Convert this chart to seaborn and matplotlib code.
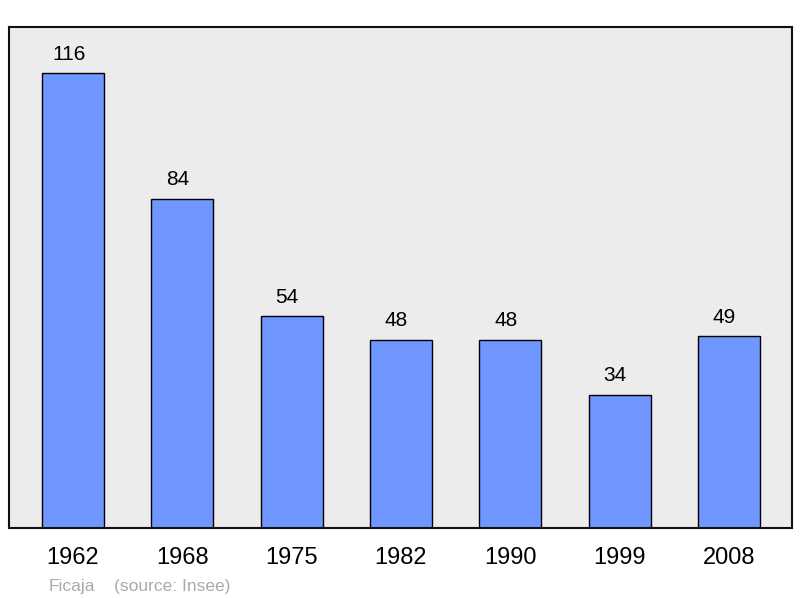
import pandas as pd
import seaborn as sns
import matplotlib.pyplot as plt

years = ['1962', '1968', '1975', '1982', '1990', '1999', '2008']
population = [116, 84, 54, 48, 48, 34, 49]

df = pd.DataFrame({'year': years, 'pop': population})

sns.set_style('white')
plt.rcParams['font.family'] = ['Liberation Sans', 'DejaVu Sans']

fig = plt.figure(figsize=(8, 5.98), dpi=100)
ax = fig.add_axes([0.0113, 0.117, 0.979, 0.838])
ax.set_facecolor('#ececec')

sns.barplot(data=df, x='year', y='pop', color='#7097ff', saturation=1,
            width=0.567, edgecolor='black', linewidth=1.0, ax=ax)

# value labels sit a little left of the bar centre
for i, v in enumerate(population):
    ax.text(i - 0.04, v + 3.4, str(v), ha='center', va='baseline',
            fontsize=15, color='black')

ax.set_xlim(-0.585, 6.58)
ax.set_ylim(0, 127.8)
ax.set_yticks([])
ax.set_xlabel('')
ax.set_ylabel('')
ax.tick_params(axis='x', length=0, labelsize=17, pad=14, labelcolor='black')
for s in ax.spines.values():
    s.set_visible(True)
    s.set_color('#111111')
    s.set_linewidth(1.5)

fig.text(0.061, 0.012, 'Ficaja', fontsize=12.5, color='#aaaaaa')
fig.text(0.143, 0.012, '(source: Insee)', fontsize=12.5, color='#aaaaaa')

fig.savefig('out.png', dpi=100)
